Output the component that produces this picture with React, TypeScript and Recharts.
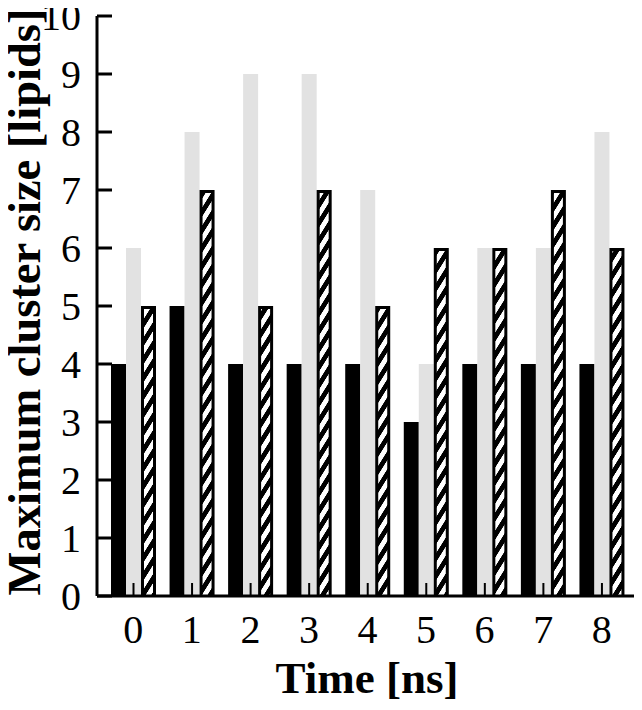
import { BarChart, Bar, XAxis, YAxis, Label } from "recharts";

const times = ["0", "1", "2", "3", "4", "5", "6", "7", "8"];
const blackValues = [4, 5, 4, 4, 4, 3, 4, 4, 4];
const grayValues = [6, 8, 9, 9, 7, 4, 6, 6, 8];
const hatchedValues = [5, 7, 5, 7, 5, 6, 6, 7, 6];
const yTicks = [0, 1, 2, 3, 4, 5, 6, 7, 8, 9, 10];

const data = times.map((t, i) => ({
  time: t,
  black: blackValues[i],
  gray: grayValues[i],
  hatched: hatchedValues[i],
}));

const FONT = '"Liberation Serif", "Times New Roman", serif';

const HatchedBar = (props: any) => {
  const { x, y, width, height } = props;
  if (!height || height <= 0) return null;
  return (
    <g>
      <rect x={x} y={y} width={width} height={height} fill="#000" />
      <rect
        x={x + 3}
        y={y + 3}
        width={width - 6}
        height={height - 3}
        fill="url(#hatch)"
      />
    </g>
  );
};

// gray bar sits on the category centre, so the inward x tick is drawn with it
// (axes are painted under the bars otherwise)
const GrayBar = (props: any) => {
  const { x, y, width, height, fill } = props;
  const cx = x + width / 2;
  const base = y + height;
  return (
    <g>
      <rect x={x} y={y} width={width} height={height} fill={fill} />
      <line x1={cx} x2={cx} y1={base} y2={base - 13} stroke="#000" strokeWidth={2} />
    </g>
  );
};

const XTick = (props: any) => {
  const { x, y, payload } = props;
  return (
    <text
      x={x}
      y={y + 47}
      textAnchor="middle"
      fontFamily={FONT}
      fontSize={40}
      fill="#000"
    >
      {payload.value}
    </text>
  );
};

const YTick = (props: any) => {
  const { x, y, payload } = props;
  return (
    <g>
      <line x1={x} x2={x + 15} y1={y} y2={y} stroke="#000" strokeWidth={3} />
      <text
        x={x - 16}
        y={y}
        dy="0.35em"
        textAnchor="end"
        fontFamily={FONT}
        fontSize={40}
        fill="#000"
      >
        {payload.value}
      </text>
    </g>
  );
};

export default function App() {
  return (
    <div style={{ width: 642, height: 710, margin: -8, background: "#fff" }}>
      <BarChart
        width={642}
        height={710}
        data={data}
        margin={{ top: 16, right: 5, left: 0, bottom: 0 }}
        barSize={15}
        barGap={0}
      >
        <defs>
          <pattern
            id="hatch"
            patternUnits="userSpaceOnUse"
            width={20}
            height={18}
            patternTransform="skewY(-58)"
          >
            <rect width={20} height={18} fill="#000" />
            <rect width={20} height={9} fill="#fff" />
          </pattern>
        </defs>
        <Bar dataKey="black" fill="#000" isAnimationActive={false} />
        <Bar
          dataKey="gray"
          fill="#e2e2e2"
          shape={GrayBar}
          isAnimationActive={false}
        />
        <Bar
          dataKey="hatched"
          fill="#000"
          shape={HatchedBar}
          isAnimationActive={false}
        />
        <XAxis
          dataKey="time"
          height={114}
          padding={{ left: 7, right: 6 }}
          tickSize={0}
          tickMargin={0}
          tick={XTick}
          axisLine={{ stroke: "#000", strokeWidth: 3 }}
          interval={0}
        >
          <Label
            value="Time [ns]"
            position="insideBottom"
            offset={17}
            style={{
              fontFamily: FONT,
              fontSize: 45,
              fontWeight: "bold",
              fill: "#000",
            }}
          />
        </XAxis>
        <XAxis
          xAxisId="top"
          dataKey="time"
          orientation="top"
          height={0}
          tick={false}
          tickLine={false}
          axisLine={{ stroke: "#000", strokeWidth: 3 }}
        />
        <YAxis
          width={97}
          domain={[0, 10]}
          ticks={yTicks}
          interval={0}
          tickSize={0}
          tickMargin={0}
          tick={YTick}
          axisLine={{ stroke: "#000", strokeWidth: 3 }}
        >
          <Label
            value="Maximum cluster size [lipids]"
            angle={-90}
            position="insideLeft"
            offset={23}
            dy={-4}
            style={{
              textAnchor: "middle",
              fontFamily: FONT,
              fontSize: 46.5,
              fontWeight: "bold",
              fill: "#000",
            }}
          />
        </YAxis>
        <YAxis
          yAxisId="right"
          orientation="right"
          width={0}
          domain={[0, 10]}
          tick={false}
          tickLine={false}
          axisLine={{ stroke: "#000", strokeWidth: 3 }}
        />
      </BarChart>
    </div>
  );
}
